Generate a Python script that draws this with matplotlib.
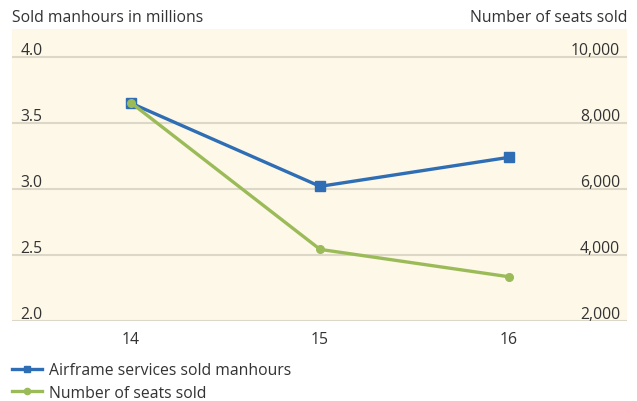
import matplotlib
matplotlib.use("Agg")
import matplotlib.pyplot as plt
import matplotlib.transforms as mtransforms
from matplotlib.ticker import FuncFormatter

plt.rcParams['font.family'] = ['Open Sans', 'DejaVu Sans']

years = [14, 15, 16]
manhours = [3.65, 3.02, 3.24]          # millions
seats = [8610, 4170, 3340]

left_ticks = [2.0, 2.5, 3.0, 3.5, 4.0]
right_ticks = [2000, 4000, 6000, 8000, 10000]

BG = '#fdf8e7'
GRID = '#dcd7c6'
BLUE = '#2f6db5'
GREEN = '#9bbb59'
TEXT = '#333333'
FS = 11.3

W, H = 637, 402
fig = plt.figure(figsize=(W / 100, H / 100), dpi=100)
ax = fig.add_axes([12 / W, (H - 322) / H, 615 / W, 292 / H])
ax.set_facecolor(BG)

ymin, ymax = 2.0, 4.212
ax.set_ylim(ymin, ymax)
ax.set_xlim(13.37, 16.624)

ax2 = ax.twinx()
# seats axis aligned so that 2,000 sits on 2.0 and 10,000 on 4.0
ax2.set_ylim(2000 + (ymin - 2.0) * 4000, 2000 + (ymax - 2.0) * 4000)

for a in (ax, ax2):
    for s in a.spines.values():
        s.set_visible(False)

# tick labels sit just above their gridlines
lift = mtransforms.ScaledTranslation(0, 3 / 100, fig.dpi_scale_trans)

ax.set_yticks(left_ticks)
ax.yaxis.set_major_formatter(FuncFormatter(lambda v, p: f"{v:.1f}"))
ax.tick_params(axis='y', length=0, pad=-6, labelsize=FS, labelcolor=TEXT)
for lab in ax.get_yticklabels():
    lab.set_horizontalalignment('left')
    lab.set_verticalalignment('baseline')
    lab.set_transform(lab.get_transform() + lift)

ax2.set_yticks(right_ticks)
ax2.yaxis.set_major_formatter(FuncFormatter(lambda v, p: f"{int(v):,}"))
ax2.tick_params(axis='y', length=0, pad=-5, labelsize=FS, labelcolor=TEXT)
for lab in ax2.get_yticklabels():
    lab.set_horizontalalignment('right')
    lab.set_verticalalignment('baseline')
    lab.set_transform(lab.get_transform() + lift)

ax.set_xticks(years)
ax.set_xticklabels([str(y) for y in years])
ax.tick_params(axis='x', length=0, pad=7, labelsize=FS, labelcolor=TEXT)

ax.grid(axis='y', color=GRID, linewidth=1.5)
ax.set_axisbelow(True)

l1, = ax.plot(years, manhours, color=BLUE, linewidth=2.4, marker='s',
              markersize=6.5, label='Airframe services sold manhours', zorder=3)
l2, = ax2.plot(years, seats, color=GREEN, linewidth=2.4, marker='o',
               markersize=5.5, label='Number of seats sold', zorder=3)
# seats line is drawn over the manhours line
ax.set_zorder(0)
ax2.set_zorder(1)
ax2.patch.set_visible(False)

fig.text(12 / W, 1 - 18 / H, 'Sold manhours in millions', ha='left', va='center',
         fontsize=FS, color=TEXT)
fig.text(627 / W, 1 - 18 / H, 'Number of seats sold', ha='right', va='center',
         fontsize=FS, color=TEXT)

leg = fig.legend(handles=[l1, l2], loc='upper left',
                 bbox_to_anchor=(6 / W, 1 - 357 / H), frameon=False,
                 fontsize=FS, handlelength=1.9, handletextpad=0.45,
                 labelspacing=0.4, numpoints=1, borderaxespad=0)
for t in leg.get_texts():
    t.set_color(TEXT)
for h in leg.legend_handles:
    h.set_markersize(4.5)

fig.savefig('out.png', dpi=100)
